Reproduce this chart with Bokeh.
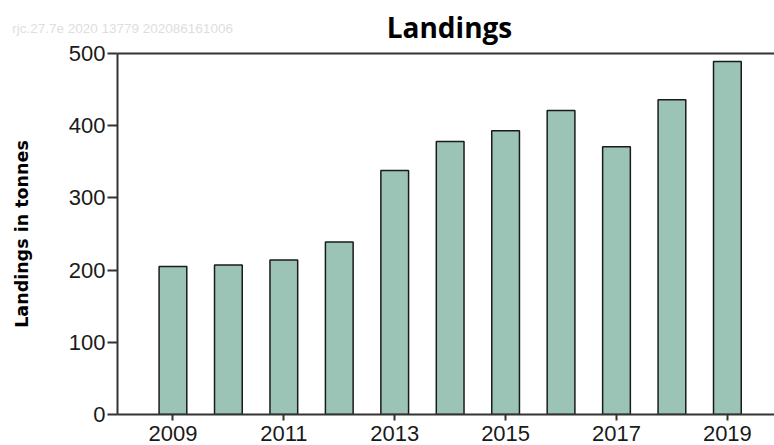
from bokeh.plotting import figure
from bokeh.models import Range1d, FixedTicker, LinearAxis, Label
from bokeh.embed import file_html
from bokeh.resources import INLINE

years = [2009, 2010, 2011, 2012, 2013, 2014, 2015, 2016, 2017, 2018, 2019]
landings = [205, 207, 214, 239, 338, 378, 393, 421, 371, 436, 489]
x_ticks = [2009, 2011, 2013, 2015, 2017, 2019]
y_ticks = [0, 100, 200, 300, 400, 500]
title_text = "Landings"
y_label = "Landings in tonnes"
watermark = "rjc.27.7e  2020  13779  202086161006"

p = figure(width=774, height=445, output_backend="svg", toolbar_location=None,
           x_range=Range1d(2008, 2019.85), y_range=Range1d(0, 500),
           min_border_left=117, min_border_right=0, min_border_top=53,
           min_border_bottom=31, outline_line_color=None)
p.grid.visible = False
p.background_fill_color = "white"
p.border_fill_color = "white"
p.title.visible = False

p.vbar(x=years, top=landings, width=0.5, bottom=0,
       fill_color="#9bc4b6", line_color="#1a1a1a", line_width=1.5)

for ax in (p.xaxis[0], p.yaxis[0]):
    ax.axis_line_color = "#333333"
    ax.axis_line_width = 2
    ax.major_tick_line_color = "#333333"
    ax.major_tick_line_width = 2
    ax.major_tick_in = 0
    ax.minor_tick_line_color = None
    ax.major_label_text_font = "Liberation Sans"
    ax.major_label_text_font_size = "22px"
    ax.major_label_text_color = "#1a1a1a"

p.xaxis.ticker = FixedTicker(ticks=x_ticks)
p.xaxis.major_tick_out = 6
p.xaxis.major_label_standoff = 5

p.yaxis.ticker = FixedTicker(ticks=y_ticks)
p.yaxis.major_tick_out = 10
p.yaxis.major_label_standoff = 2
p.yaxis.axis_label = y_label
p.yaxis.axis_label_text_font = "DejaVu Sans"
p.yaxis.axis_label_text_font_style = "bold"
p.yaxis.axis_label_text_font_size = "17.5px"
p.yaxis.axis_label_text_color = "black"
p.yaxis.axis_label_standoff = 34

top_axis = LinearAxis(ticker=FixedTicker(ticks=[]),
                      axis_line_color="#333333", axis_line_width=2,
                      major_tick_line_color=None, minor_tick_line_color=None,
                      major_label_standoff=0, major_tick_out=0, major_tick_in=0)
p.add_layout(top_axis, "above")

# title and watermark as canvas-positioned labels in the top panel
p.add_layout(Label(x=449, y=26, x_units="canvas", y_units="canvas",
                   text=title_text, text_font="Open Sans",
                   text_font_style="bold", text_font_size="28px",
                   text_color="black", text_align="center",
                   text_baseline="alphabetic"), "above")
p.add_layout(Label(x=11.7, y=28, x_units="canvas", y_units="canvas",
                   text=watermark, text_font="Liberation Sans",
                   text_font_size="13.5px", text_color="#dedede",
                   text_baseline="middle"), "above")

open("out.html", "w").write(file_html(p, INLINE))
